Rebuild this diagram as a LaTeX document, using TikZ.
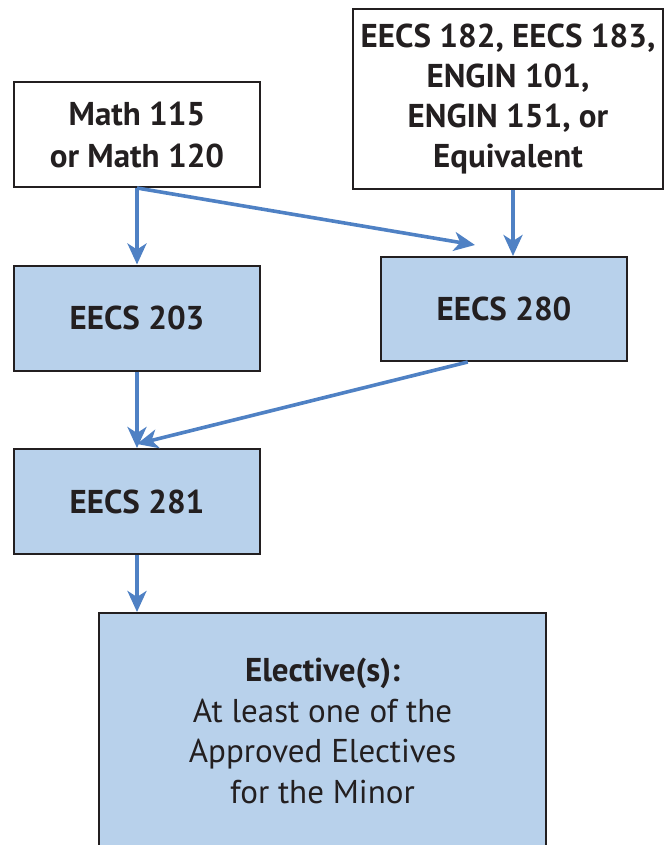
\documentclass[tikz,border=0pt]{standalone}
\usepackage{fontspec}
\setmainfont{PT Sans}
\usetikzlibrary{arrows.meta,calc}
\definecolor{boxfill}{HTML}{B8D1EB}
\definecolor{arrowblue}{HTML}{4F81C4}
\definecolor{ink}{HTML}{231F20}
\tikzset{
  box/.style={draw=ink, line width=2pt, minimum width=246pt, minimum height=105pt,
    align=center, text=ink, font=\fontsize{33}{41}\selectfont\bfseries, inner sep=0pt},
  bluebox/.style={box, fill=boxfill},
  conn/.style={draw=arrowblue, line width=3.6pt,
    -{Stealth[length=21pt,width=19pt,inset=6pt]}}
}
\begin{document}
\begin{tikzpicture}[x=1pt,y=-1pt]
\useasboundingbox (0,0) rectangle (664,845);
\node[box, font=\fontsize{33}{42}\selectfont\bfseries] (math) at (137,134.5) {Math 115\\or Math 120};
\node[box, minimum width=310pt, minimum height=180pt, font=\fontsize{33}{40}\selectfont\bfseries] (eecs182) at (508,99)
  {EECS 182, EECS 183,\\ENGIN 101,\\ENGIN 151, or\\Equivalent};
\node[bluebox] (e203) at (137,318) {EECS 203};
\node[bluebox, minimum height=104pt] (e280) at (504,309) {EECS 280};
\node[bluebox] (e281) at (137,501.5) {EECS 281};
\node[bluebox, minimum width=447pt, minimum height=236pt,
  font=\fontsize{33}{40.5}\selectfont] (elective) at (322.5,731)
  {\textbf{Elective(s):}\\At least one of the\\Approved Electives\\for the Minor};
\coordinate (t280) at (475,245);
\draw[conn] (math.south) -- (e203.north);
\draw[conn] (math.south) -- (t280);
\draw[conn] (eecs182.south -| 513,0) -- (e280.north -| 513,0);
\draw[conn] (e203.south) -- (e281.north);
\draw[conn] ($(e280.south west)!0.354!(e280.south east)$) -- ($(e281.north)+(0,-4)$);
\draw[conn] (e281.south) -- (elective.north -| e281.south);
\end{tikzpicture}
\end{document}
